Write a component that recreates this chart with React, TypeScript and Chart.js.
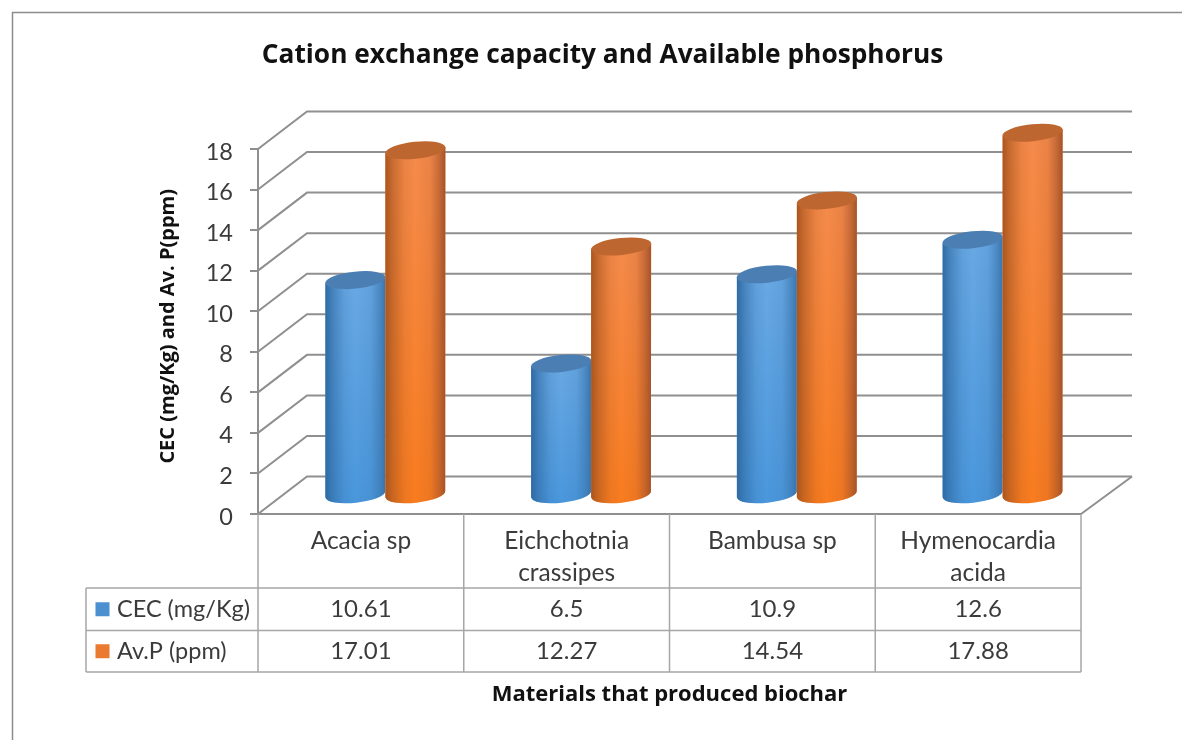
import React, { useEffect, useRef } from "react";
import { Chart, registerables } from "chart.js";

Chart.register(...registerables);

const categories = ["Acacia sp", "Eichchotnia crassipes", "Bambusa sp", "Hymenocardia acida"];
const categoryLines = [["Acacia sp"], ["Eichchotnia", "crassipes"], ["Bambusa sp"], ["Hymenocardia", "acida"]];
const cecValues = [10.61, 6.5, 10.9, 12.6];
const avpValues = [17.01, 12.27, 14.54, 17.88];
const cecLabel = "CEC (mg/Kg)";
const avpLabel = "Av.P (ppm)";
const titleText = "Cation exchange capacity and Available phosphorus";
const yTitle = "  CEC (mg/Kg) and Av. P(ppm)";
const xTitle = "Materials that produced biochar";

const GRID = "#8f8f8f";
const TEXT = "#3b3b3b";
const BODY_FONT = "Lato";
const BOLD_FONT = "'Open Sans'";
const DEPTH_X = 49;
const DEPTH_Y = -37.5;
const TILT = (6 * Math.PI) / 180;
const RY = 8.5;

type Palette = {
  edgeL: string; midTop: string; midBottom: string; edgeR: string; cap: string; key: string;
};
const BLUE: Palette = { edgeL: "#2f6aa3", midTop: "#69a9e4", midBottom: "#4a97dc", edgeR: "#3a75ad", cap: "#4b7fb3", key: "#4d90cf" };
const ORANGE: Palette = { edgeL: "#a9561f", midTop: "#f58b4c", midBottom: "#f97c1f", edgeR: "#a5532a", cap: "#bd6630", key: "#e97a2f" };

function drawCylinder(ctx: CanvasRenderingContext2D, el: any, pal: Palette) {
  const cx = el.x + DEPTH_X / 2;
  const top = el.y + DEPTH_Y / 2;
  const base = el.base + DEPTH_Y / 2;
  const rx = el.width / 2;
  const dy = rx * Math.sin(TILT);

  const body = () => {
    ctx.beginPath();
    ctx.moveTo(cx - rx, top + dy);
    ctx.lineTo(cx - rx, base + dy);
    ctx.ellipse(cx, base, rx, RY, -TILT, Math.PI, 0, true);
    ctx.lineTo(cx + rx, top - dy);
    ctx.closePath();
  };

  const v = ctx.createLinearGradient(0, top, 0, base + RY);
  v.addColorStop(0, pal.midTop);
  v.addColorStop(1, pal.midBottom);
  body();
  ctx.fillStyle = v;
  ctx.fill();

  const h = ctx.createLinearGradient(cx - rx, 0, cx + rx, 0);
  const shade = (hex: string, a: number) => {
    const n = parseInt(hex.slice(1), 16);
    return `rgba(${(n >> 16) & 255},${(n >> 8) & 255},${n & 255},${a})`;
  };
  h.addColorStop(0, shade(pal.edgeL, 1));
  h.addColorStop(0.12, shade(pal.edgeL, 0.6));
  h.addColorStop(0.32, shade(pal.edgeL, 0.15));
  h.addColorStop(0.5, shade(pal.edgeL, 0));
  h.addColorStop(0.75, shade(pal.edgeR, 0.15));
  h.addColorStop(0.9, shade(pal.edgeR, 0.6));
  h.addColorStop(1, shade(pal.edgeR, 1));
  body();
  ctx.fillStyle = h;
  ctx.fill();

  ctx.beginPath();
  ctx.ellipse(cx, top, rx + 0.3, RY, -TILT, 0, Math.PI * 2);
  ctx.fillStyle = pal.cap;
  ctx.fill();
}

const wallPlugin = {
  id: "wall3d",
  beforeDatasetsDraw(chart: any) {
    const { ctx, chartArea, scales } = chart;
    const { left, right, bottom } = chartArea;
    const y = scales.y;
    ctx.save();
    ctx.strokeStyle = GRID;
    ctx.lineWidth = 2;
    y.ticks.forEach((t: any) => {
      const py = y.getPixelForValue(t.value);
      ctx.beginPath();
      ctx.moveTo(left, py);
      ctx.lineTo(left + DEPTH_X, py + DEPTH_Y);
      ctx.lineTo(right + DEPTH_X + 2, py + DEPTH_Y);
      ctx.stroke();
    });
    ctx.beginPath();
    ctx.moveTo(right + DEPTH_X + 2, bottom + DEPTH_Y);
    ctx.lineTo(right, bottom);
    ctx.stroke();
    ctx.restore();
  },
  // the library's own bars are replaced by cylinders built from the same elements
  beforeDatasetDraw() {
    return false;
  },
  afterDatasetsDraw(chart: any) {
    const ctx = chart.ctx;
    ctx.save();
    categories.forEach((_, i) => {
      [BLUE, ORANGE].forEach((pal, d) => {
        drawCylinder(ctx, chart.getDatasetMeta(d).data[i], pal);
      });
    });
    ctx.restore();
  },
  afterDraw(chart: any) {
    const { ctx, chartArea, scales } = chart;
    const { left, right, bottom } = chartArea;
    const rows = [588, 630.5, 672];
    const tableLeft = 86;
    ctx.save();

    ctx.strokeStyle = "#8c8c8c";
    ctx.lineWidth = 1.5;
    ctx.beginPath();
    ctx.moveTo(12.5, chart.height);
    ctx.lineTo(12.5, 12.5);
    ctx.lineTo(chart.width, 12.5);
    ctx.stroke();

    ctx.strokeStyle = "#a6a6a6";
    ctx.lineWidth = 1.5;
    ctx.beginPath();
    rows.forEach((r) => {
      ctx.moveTo(tableLeft, r);
      ctx.lineTo(right, r);
    });
    ctx.moveTo(tableLeft, rows[0]);
    ctx.lineTo(tableLeft, rows[2]);
    const x = scales.x;
    const step = (right - left) / categories.length;
    for (let i = 0; i <= categories.length; i++) {
      const vx = left + i * step;
      ctx.moveTo(vx, bottom);
      ctx.lineTo(vx, rows[2]);
    }
    ctx.stroke();

    ctx.textBaseline = "middle";
    const series = [
      { label: cecLabel, values: cecValues, pal: BLUE },
      { label: avpLabel, values: avpValues, pal: ORANGE },
    ];
    series.forEach((s, r) => {
      const cy = (rows[r] + rows[r + 1]) / 2;
      ctx.fillStyle = s.pal.key;
      ctx.fillRect(95.5, cy - 7, 14, 14);
      ctx.fillStyle = TEXT;
      ctx.font = `23.5px ${BODY_FONT}`;
      ctx.textAlign = "left";
      ctx.fillText(s.label, 117, cy);
      ctx.font = `24px ${BODY_FONT}`;
      ctx.textAlign = "center";
      s.values.forEach((val, i) => {
        ctx.fillText(String(val), x.getPixelForValue(i), cy);
      });
    });
    ctx.restore();
  },
};

export default function App() {
  const ref = useRef<HTMLCanvasElement | null>(null);
  useEffect(() => {
    const chart = new Chart(ref.current as HTMLCanvasElement, {
      type: "bar",
      data: {
        labels: categoryLines as any,
        datasets: [
          { label: cecLabel, data: cecValues, backgroundColor: BLUE.key },
          { label: avpLabel, data: avpValues, backgroundColor: ORANGE.key },
        ],
      },
      options: {
        responsive: false,
        animation: false,
        events: [],
        layout: { padding: { left: 124, right: 101, top: 40, bottom: 20 } },
        datasets: { bar: { barPercentage: 1, categoryPercentage: 0.583 } },
        plugins: {
          legend: { display: false },
          tooltip: { enabled: false },
          title: {
            display: true,
            text: titleText,
            color: "#111111",
            font: { family: BOLD_FONT, size: 26.3, weight: "bold", lineHeight: 1.2 },
            padding: { top: 0, bottom: 77.44 },
          },
        },
        scales: {
          x: {
            afterFit: (s: any) => { s.height = 206; },
            grid: { display: false, drawTicks: false },
            border: { display: true, color: GRID, width: 2 },
            ticks: {
              color: TEXT,
              padding: 11,
              maxRotation: 0,
              minRotation: 0,
              autoSkip: false,
              font: { family: BODY_FONT, size: 24.5, lineHeight: 1.31 },
            },
            title: {
              display: true,
              text: xTitle,
              color: "#111111",
              font: { family: BOLD_FONT, size: 22, weight: "bold", lineHeight: 1.2 },
              padding: { top: 0, bottom: 12 },
            },
          },
          y: {
            min: 0,
            max: 18,
            afterFit: (s: any) => { s.width = 134; },
            grid: { drawOnChartArea: false, tickLength: 8, color: GRID, lineWidth: 2 },
            border: { display: true, color: GRID, width: 2 },
            ticks: {
              stepSize: 2,
              color: TEXT,
              padding: 17,
              labelOffset: 3,
              font: { family: BODY_FONT, size: 23.5 },
            },
            title: {
              display: true,
              text: yTitle,
              color: "#111111",
              font: { family: BOLD_FONT, size: 20, weight: "bold", lineHeight: 1.2 },
              padding: { top: 32, bottom: 0 },
            },
          },
        },
      },
      plugins: [wallPlugin],
    } as any);
    return () => chart.destroy();
  }, []);
  return (
    <canvas
      ref={ref}
      width={1182}
      height={740}
      style={{ position: "absolute", left: 0, top: 0, width: 1182, height: 740, display: "block", background: "#ffffff" }}
    />
  );
}
